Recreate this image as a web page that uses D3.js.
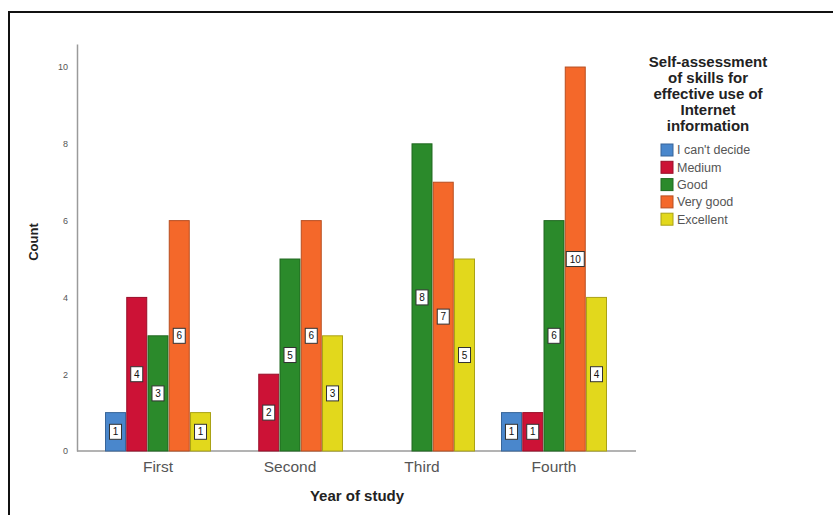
<!DOCTYPE html>
<html>
<head>
<meta charset="utf-8">
<script src="https://cdn.jsdelivr.net/npm/d3@7"></script>
<style>
  html, body { margin: 0; padding: 0; background: #fff; }
  svg { display: block; font-family: "Liberation Sans", Arial, sans-serif; }
</style>
</head>
<body>
<svg id="chart" width="833" height="515"></svg>
<script>
const years = ["First", "Second", "Third", "Fourth"];
const ratings = ["I can't decide", "Medium", "Good", "Very good", "Excellent"];
const colors = ["#4a87cc", "#cc1236", "#2b8a2b", "#f4682a", "#e2d81c"];
const cantDecide = [1, 0, 0, 1];
const medium     = [4, 2, 0, 1];
const good       = [3, 5, 8, 6];
const veryGood   = [6, 6, 7, 10];
const excellent  = [1, 3, 5, 4];
const yTicks = [0, 2, 4, 6, 8, 10];
const legendTitle = ["Self-assessment", "of skills for", "effective use of", "Internet", "information"];

const seriesValues = [cantDecide, medium, good, veryGood, excellent];

const svg = d3.select("#chart");

// frame (top and left edges)
svg.append("path")
  .attr("d", "M9,515 L9,12 L833,12")
  .attr("fill", "none").attr("stroke", "#111").attr("stroke-width", 2);

const x0 = d3.scaleBand().domain(years).range([92, 620]).padding(0);
const x1 = d3.scaleBand().domain(ratings).range([13.5, 118.5]).paddingInner(0.06);
const y = d3.scaleLinear().domain([0, 10.6]).range([451, 44]);

// y axis
const yAxis = svg.append("g").attr("transform", "translate(77,0)")
  .call(d3.axisLeft(y).tickValues(yTicks).tickSize(0).tickPadding(9));
yAxis.select(".domain").attr("stroke", "#9a9a9a").attr("stroke-width", 1.5);
yAxis.selectAll("text").attr("font-size", 9).attr("fill", "#555")
  .attr("font-family", "Liberation Sans, Arial, sans-serif");

// x axis line
svg.append("line").attr("x1", 77).attr("x2", 636).attr("y1", y(0)).attr("y2", y(0))
  .attr("stroke", "#9a9a9a").attr("stroke-width", 1.5);

const xAxis = svg.append("g").attr("transform", `translate(0,${y(0)})`)
  .call(d3.axisBottom(x0).tickSize(0).tickPadding(10));
xAxis.select(".domain").remove();
xAxis.selectAll("text").attr("font-size", 15.5).attr("fill", "#555")
  .attr("font-family", "Liberation Sans, Arial, sans-serif");

// bars
const rows = [];
years.forEach((yr, i) => {
  ratings.forEach((r, j) => {
    rows.push({ year: yr, rating: r, value: seriesValues[j][i], color: colors[j] });
  });
});
const barData = rows.filter(d => d.value > 0);

const bars = svg.append("g");
bars.selectAll("rect").data(barData).join("rect")
  .attr("x", d => x0(d.year) + x1(d.rating))
  .attr("width", x1.bandwidth())
  .attr("y", d => y(d.value))
  .attr("height", d => y(0) - y(d.value))
  .attr("fill", d => d.color)
  .attr("stroke", d => d3.color(d.color).darker(0.8))
  .attr("stroke-width", 1);

// value labels
const lab = svg.append("g").selectAll("g").data(barData).join("g")
  .attr("transform", d => `translate(${x0(d.year) + x1(d.rating) + x1.bandwidth() / 2},${(y(d.value) + y(0)) / 2})`);
lab.append("rect")
  .attr("x", d => d.value >= 10 ? -9 : -6)
  .attr("width", d => d.value >= 10 ? 18 : 12)
  .attr("y", -7.5).attr("height", 15)
  .attr("fill", "#fff").attr("stroke", "#333").attr("stroke-width", 1);
lab.append("text")
  .attr("text-anchor", "middle").attr("dy", "0.35em")
  .attr("font-size", 10).attr("fill", "#111")
  .text(d => d.value);

// axis titles
svg.append("text")
  .attr("transform", "translate(38,242) rotate(-90)")
  .attr("text-anchor", "middle").attr("font-size", 13).attr("font-weight", "bold").attr("fill", "#222")
  .text("Count");
svg.append("text")
  .attr("x", 357).attr("y", 501)
  .attr("text-anchor", "middle").attr("font-size", 15).attr("font-weight", "bold").attr("fill", "#222")
  .text("Year of study");

// legend
const leg = svg.append("g");
leg.selectAll("text.title").data(legendTitle).join("text")
  .attr("class", "title")
  .attr("x", 708).attr("y", (d, i) => 67 + i * 16)
  .attr("text-anchor", "middle").attr("font-size", 15).attr("font-weight", "bold").attr("fill", "#222")
  .text(d => d);

const items = leg.selectAll("g.item").data(ratings).join("g")
  .attr("class", "item")
  .attr("transform", (d, i) => `translate(661,${150 + i * 17.3})`);
items.append("rect")
  .attr("x", 0).attr("y", -6).attr("width", 12).attr("height", 12)
  .attr("fill", (d, i) => colors[i])
  .attr("stroke", (d, i) => d3.color(colors[i]).darker(0.8)).attr("stroke-width", 1);
items.append("text")
  .attr("x", 16).attr("dy", "0.35em")
  .attr("font-size", 12.5).attr("fill", "#555")
  .text(d => d);
</script>
</body>
</html>
